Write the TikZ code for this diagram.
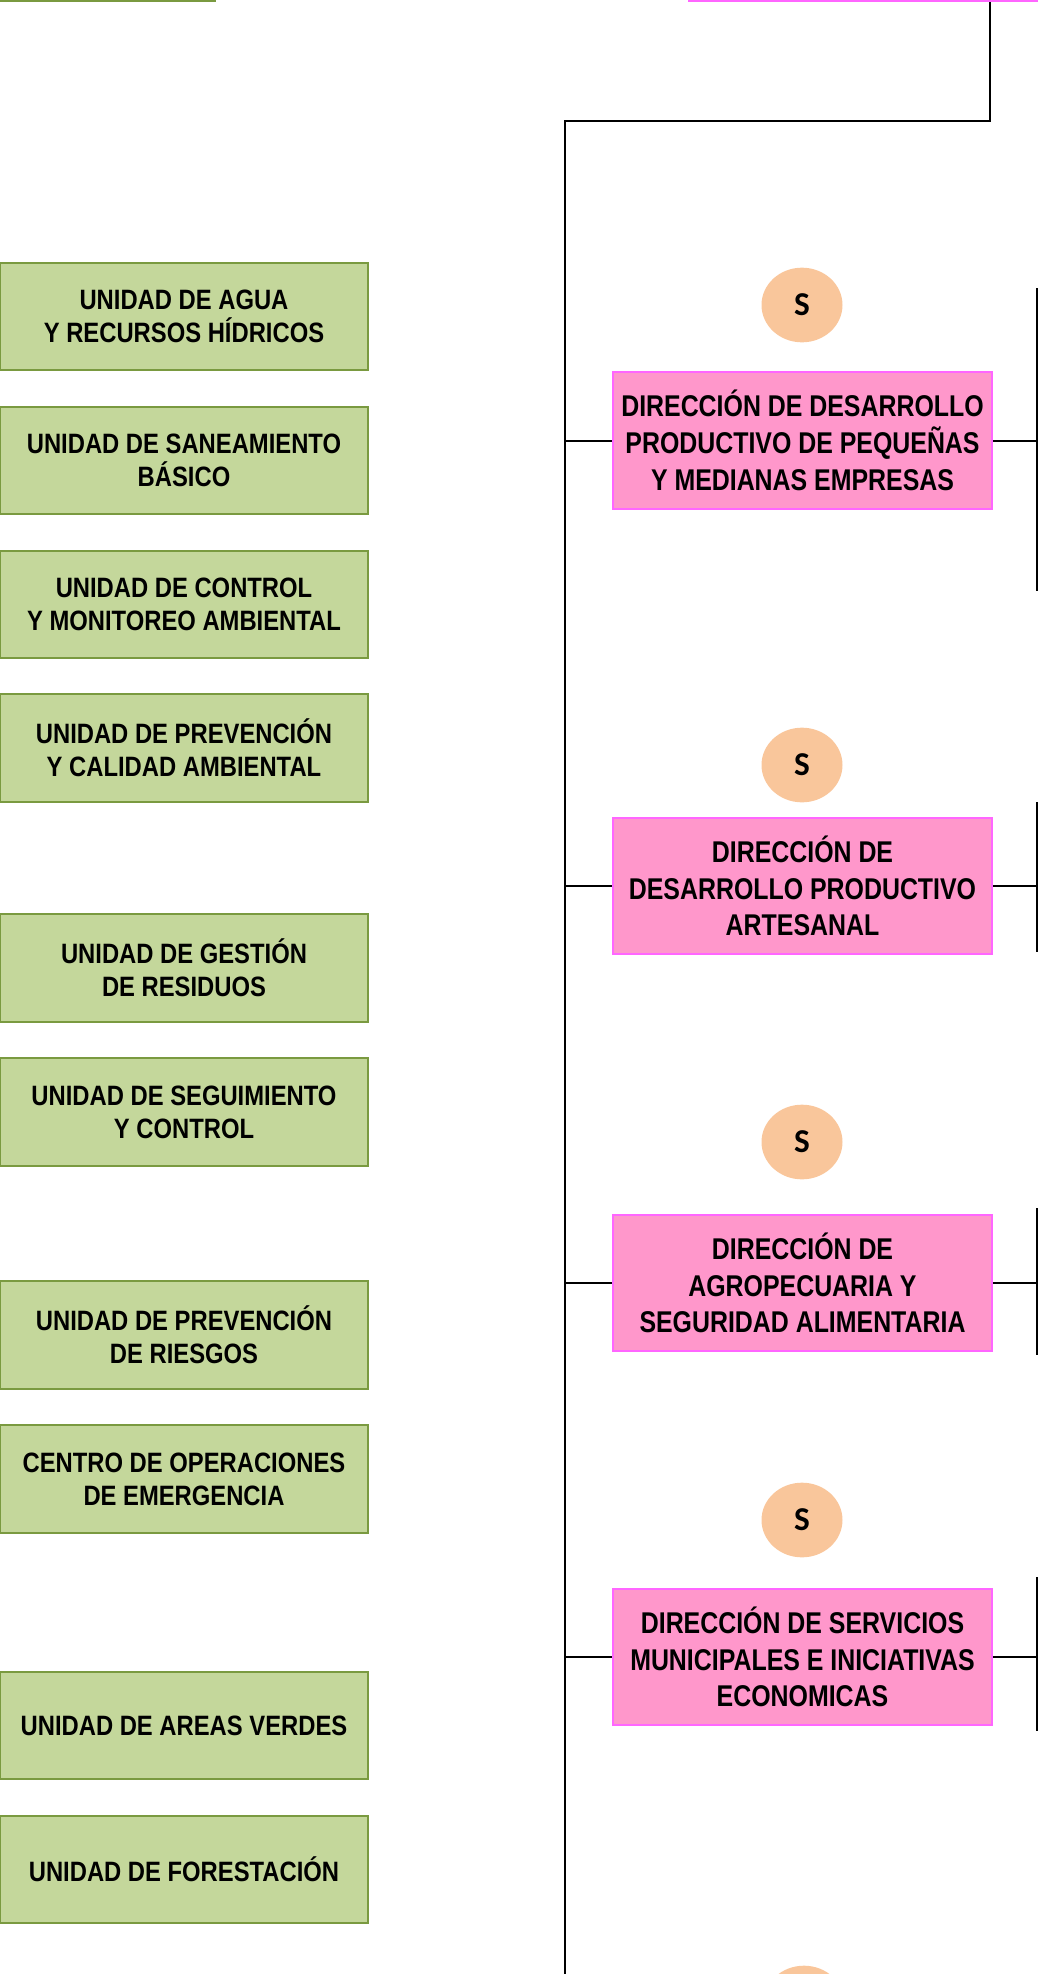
\documentclass[tikz,border=0pt]{standalone}
\usepackage{fontspec}
\setmainfont{Liberation Sans}
\newfontfamily\angosta[FakeStretch=0.83]{Liberation Sans}
\newfontfamily\media[FakeStretch=0.85]{Liberation Sans}
\newfontfamily\redonda{Carlito}
\usepackage{tikz}
\usetikzlibrary{shapes.geometric}
\usetikzlibrary{positioning}
\definecolor{unidadfill}{HTML}{C4D79B}
\definecolor{unidadborde}{HTML}{7A9A40}
\definecolor{dirfill}{HTML}{FF97CB}
\definecolor{dirborde}{HTML}{FF66FF}
\definecolor{sellofill}{HTML}{F9C69B}
\tikzset{
    unidad/.style={
           rectangle,
           draw=unidadborde, line width=1.5pt,
           fill=unidadfill,
           minimum width=276pt,
           minimum height=80.5pt,
           inner sep=0pt,
           align=center,
           font=\media\fontsize{21pt}{24.75pt}\selectfont\bfseries,
           },
    direccion/.style={
           rectangle,
           draw=dirborde, line width=1.5pt,
           fill=dirfill,
           minimum width=284pt,
           minimum height=102.5pt,
           inner sep=0pt,
           align=center,
           font=\angosta\fontsize{22.5pt}{27.5pt}\selectfont\bfseries,
           },
    sello/.style={
           ellipse,
           fill=sellofill,
           minimum width=60.75pt,
           minimum height=56pt,
           inner sep=0pt,
           font=\redonda\fontsize{25pt}{30pt}\selectfont\bfseries,
           },
    tronco/.style={
           line width=2pt,
           },
    rama/.style={
           line width=1.5pt,
           }
}

\begin{document}
\begin{tikzpicture}[x=0.75pt,y=-0.75pt]
\useasboundingbox (0,0) rectangle (1038,1974);
% cajas cortadas arriba
\node (arriba) [unidad, anchor=south east, minimum width=300pt] at (216,2) {};
\node (jefe) [direccion, anchor=south west, minimum width=300pt] at (688,2) {};
% unidades
\node (u1) [unidad] at (184,316.5) {UNIDAD DE AGUA\\Y RECURSOS HÍDRICOS};
\node (u2) [unidad] at (184,460.5) {UNIDAD DE SANEAMIENTO\\BÁSICO};
\node (u3) [unidad] at (184,604.5) {UNIDAD DE CONTROL\\Y MONITOREO AMBIENTAL};
\node (u4) [unidad] at (184,748) {UNIDAD DE PREVENCIÓN\\Y CALIDAD AMBIENTAL};
\node (u5) [unidad] at (184,968) {UNIDAD DE GESTIÓN\\DE RESIDUOS};
\node (u6) [unidad] at (184,1112) {UNIDAD DE SEGUIMIENTO\\Y CONTROL};
\node (u7) [unidad] at (184,1335) {UNIDAD DE PREVENCIÓN\\DE RIESGOS};
\node (u8) [unidad] at (184,1479) {CENTRO DE OPERACIONES\\DE EMERGENCIA};
\node (u9) [unidad] at (184,1725.5) {UNIDAD DE AREAS VERDES};
\node (u10) [unidad] at (184,1869.5) {UNIDAD DE FORESTACIÓN};
% direcciones
\node (d1) [direccion] at (802.5,440.5) {DIRECCIÓN DE DESARROLLO\\PRODUCTIVO DE PEQUEÑAS\\Y MEDIANAS EMPRESAS};
\node (d2) [direccion] at (802.5,886) {DIRECCIÓN DE\\DESARROLLO PRODUCTIVO\\ARTESANAL};
\node (d3) [direccion] at (802.5,1283) {DIRECCIÓN DE\\AGROPECUARIA Y\\SEGURIDAD ALIMENTARIA};
\node (d4) [direccion] at (802.5,1657) {DIRECCIÓN DE SERVICIOS\\MUNICIPALES E INICIATIVAS\\ECONOMICAS};
% sellos
\node (s1) [sello] at (802,305) {S};
\node (s2) [sello] at (802,765) {S};
\node (s3) [sello] at (802,1142) {S};
\node (s4) [sello] at (802,1520) {S};
\node (s5) [sello] at (804,2003) {};
% tronco
\coordinate (j1) at (990,2);
\coordinate (t0) at (565,121);
\coordinate (tfin) at (565,1976);
\draw[tronco] (j1) |- (t0) -- (tfin);
% barras a la derecha
\coordinate (r1a) at (1037,288);  \coordinate (r1b) at (1037,591);
\coordinate (r2a) at (1037,802);  \coordinate (r2b) at (1037,952);
\coordinate (r3a) at (1037,1208); \coordinate (r3b) at (1037,1355);
\coordinate (r4a) at (1037,1577); \coordinate (r4b) at (1037,1731);
\draw[rama] (r1a) -- (r1b);
\draw[rama] (r2a) -- (r2b);
\draw[rama] (r3a) -- (r3b);
\draw[rama] (r4a) -- (r4b);
\foreach \d/\r in {d1/r1a, d2/r2a, d3/r3a, d4/r4a}{
    \draw[rama] (t0 |- \d.west) -- (\d.west);
    \draw[rama] (\d.east) -- (\d.east -| \r);
}
\end{tikzpicture}
\end{document}
